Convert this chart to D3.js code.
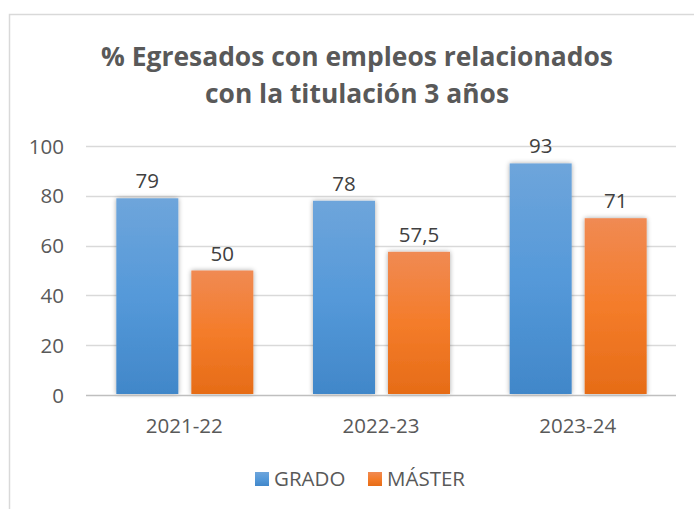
<!DOCTYPE html>
<html><head><meta charset="utf-8">
<script src="https://cdn.jsdelivr.net/npm/d3@7"></script>
<style>body{margin:0;background:#fff;} svg{display:block;}</style>
</head><body>
<svg id="c" width="694" height="509"></svg>
<script>
const categories = ["2021-22", "2022-23", "2023-24"];
const seriesNames = ["GRADO", "MÁSTER"];
const grado = [79, 78, 93];
const master = [50, 57.5, 71];
const yTicks = [0, 20, 40, 60, 80, 100];
const titleLines = ["% Egresados con empleos relacionados", "con la titulación 3 años"];

const svg = d3.select("#c");
const defs = svg.append("defs");
function grad(id, top, mid, bot) {
  const g = defs.append("linearGradient").attr("id", id).attr("x1", 0).attr("y1", 0).attr("x2", 0).attr("y2", 1);
  g.append("stop").attr("offset", "0%").attr("stop-color", top);
  g.append("stop").attr("offset", "50%").attr("stop-color", mid);
  g.append("stop").attr("offset", "100%").attr("stop-color", bot);
}
grad("gBlue", "#6ea5db", "#5599d9", "#4187c9");
grad("gOrange", "#f08a53", "#f47c2a", "#e66c17");
const sh = defs.append("filter").attr("id", "sh").attr("x", "-20%").attr("y", "-10%").attr("width", "140%").attr("height", "120%");
sh.append("feGaussianBlur").attr("in", "SourceAlpha").attr("stdDeviation", 2.5).attr("result", "b");
sh.append("feComponentTransfer").attr("in", "b").attr("result", "o2").append("feFuncA").attr("type", "linear").attr("slope", 0.35);
const m = sh.append("feMerge");
m.append("feMergeNode").attr("in", "o2");
m.append("feMergeNode").attr("in", "SourceGraphic");

// chart border
svg.append("rect").attr("x", 9.5).attr("y", 14.5).attr("width", 700).attr("height", 520)
  .attr("fill", "#fff").attr("stroke", "#d9d9d9").attr("stroke-width", 1.5);

// title
const titleW = [512, 304];
svg.append("g").selectAll("text").data(titleLines).join("text")
  .attr("x", 357).attr("y", (d, i) => 66 + i * 37)
  .attr("text-anchor", "middle")
  .attr("font-family", "'Open Sans', sans-serif").attr("font-weight", 700)
  .attr("font-size", 27.5).attr("fill", "#595959")
  .attr("textLength", (d, i) => titleW[i]).attr("lengthAdjust", "spacingAndGlyphs")
  .text(d => d);

const x0 = d3.scaleBand().domain(categories).range([86, 676]).paddingInner(0).paddingOuter(0);
const y = d3.scaleLinear().domain([0, 100]).range([395, 146]);

const fontFam = "'Open Sans', 'Noto Sans', sans-serif";
const fs = 20.5;

// gridlines
svg.append("g").selectAll("line").data(yTicks.filter(t => t > 0)).join("line")
  .attr("x1", 86).attr("x2", 676).attr("y1", d => Math.round(y(d)) + 0.5).attr("y2", d => Math.round(y(d)) + 0.5)
  .attr("stroke", "#d9d9d9").attr("stroke-width", 1.3);

// y axis labels
const yAxis = d3.axisLeft(y).tickValues(yTicks).tickSize(0).tickPadding(0);
const ya = svg.append("g").attr("transform", "translate(64,0)").call(yAxis);
ya.select(".domain").remove();
ya.selectAll("text").attr("font-family", fontFam).attr("font-size", fs).attr("fill", "#595959").attr("dy", "0.35em");

// bars
const barW = 62;
const offsets = [-68, 7];
const data = categories.map((c, i) => [{c, s: 0, v: grado[i]}, {c, s: 1, v: master[i]}]).flat();
const cx = c => x0(c) + x0.bandwidth() / 2;
svg.append("g").selectAll("rect").data(data).join("rect")
  .attr("x", d => cx(d.c) + offsets[d.s])
  .attr("y", d => y(d.v)).attr("width", barW).attr("height", d => y(0) - y(d.v) - 1)
  .attr("fill", d => d.s === 0 ? "url(#gBlue)" : "url(#gOrange)")
  .attr("filter", "url(#sh)");

// value labels
svg.append("g").selectAll("text").data(data).join("text")
  .attr("x", d => cx(d.c) + offsets[d.s] + barW / 2)
  .attr("y", d => y(d.v) - 10)
  .attr("text-anchor", "middle").attr("font-family", fontFam).attr("font-size", fs).attr("fill", "#404040")
  .text(d => String(d.v).replace(".", ","));

// baseline
svg.append("line").attr("x1", 86).attr("x2", 676).attr("y1", y(0) + 0.5).attr("y2", y(0) + 0.5)
  .attr("stroke", "#bfbfbf").attr("stroke-width", 1.5);

// x axis
const xAxis = d3.axisBottom(x0).tickSize(0).tickPadding(0);
const xa = svg.append("g").attr("transform", "translate(0,433)").call(xAxis);
xa.select(".domain").remove();
xa.selectAll("text").attr("font-family", fontFam).attr("font-size", fs).attr("fill", "#595959").attr("dy", 0);

// legend
const legX = [255, 368];
const lg = svg.append("g").selectAll("g").data(seriesNames).join("g")
  .attr("transform", (d, i) => `translate(${legX[i]},472)`);
lg.append("rect").attr("width", 14).attr("height", 14).attr("fill", (d, i) => i === 0 ? "url(#gBlue)" : "url(#gOrange)");
lg.append("text").attr("x", 19).attr("y", 14).attr("font-family", fontFam).attr("font-size", fs).attr("fill", "#595959").text(d => d);
</script>
</body></html>
